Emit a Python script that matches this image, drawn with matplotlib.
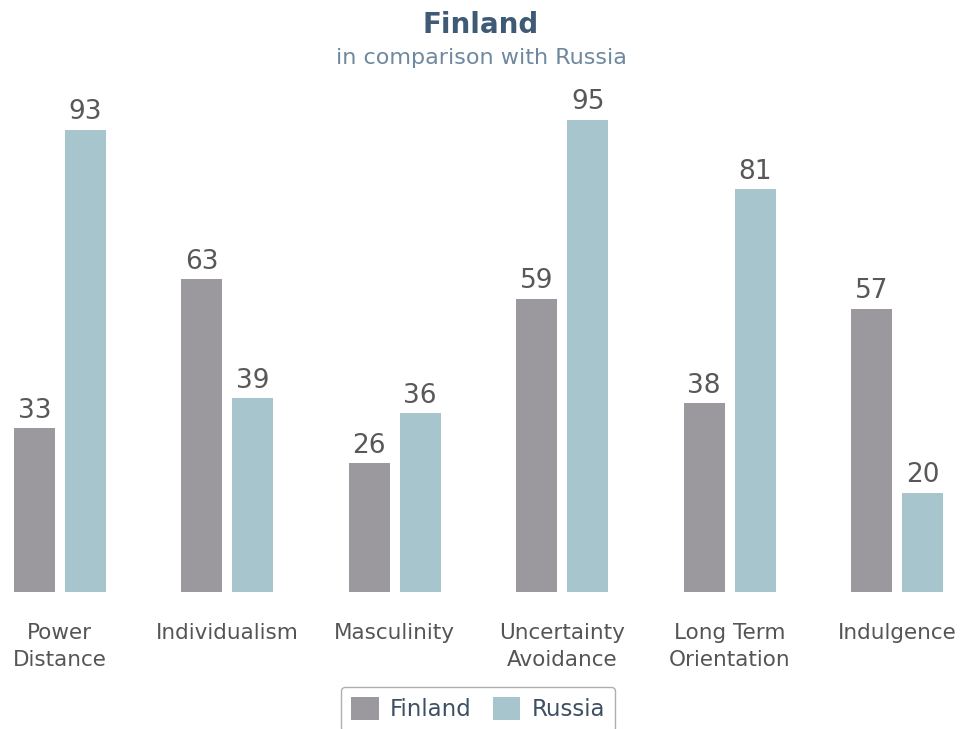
import numpy as np
import matplotlib.pyplot as plt

# Hofstede dimension scores
dimensions = ["Power\nDistance", "Individualism", "Masculinity",
              "Uncertainty\nAvoidance", "Long Term\nOrientation", "Indulgence"]
finland = [33, 63, 26, 59, 38, 57]
russia = [93, 39, 36, 95, 81, 20]

plt.rcParams['font.family'] = ['DejaVu Sans']

fig = plt.figure(figsize=(9.62, 7.29), dpi=100)
ax = fig.add_axes([0, 0.188, 1, 0.682])

x = np.arange(len(dimensions))
w = 0.245
off = 0.152
b1 = ax.bar(x - off, finland, width=w, color='#9b999d', label='Finland')
b2 = ax.bar(x + off, russia, width=w, color='#a6c5cc', label='Russia')
ax.bar_label(b1, padding=3, fontsize=19, color='#585858')
ax.bar_label(b2, padding=3, fontsize=19, color='#585858')

ax.set_xlim(-0.358, 5.388)
ax.set_ylim(0, 100)
ax.set_xticks(x)
ax.set_xticklabels(dimensions, fontsize=15.5, color='#555555', linespacing=1.45)
ax.tick_params(axis='x', length=0, pad=22)
ax.set_yticks([])
for s in ax.spines.values():
    s.set_visible(False)

fig.text(0.5, 0.966, "Finland", ha='center', va='center', fontsize=20,
         fontweight='bold', color='#3f5a75')
fig.text(0.5, 0.921, "in comparison with Russia", ha='center', va='center',
         fontsize=16, color='#6f88a0')

leg = fig.legend(loc='upper center', bbox_to_anchor=(0.497, 0.074), ncol=2,
                 fontsize=16.5, frameon=True, fancybox=True, edgecolor='#9a9a9a',
                 handlelength=1.2, handleheight=1.2, columnspacing=0.9,
                 handletextpad=0.5, borderpad=0.45)
for t in leg.get_texts():
    t.set_color('#3d4f63')

fig.savefig('out.png', dpi=100)
